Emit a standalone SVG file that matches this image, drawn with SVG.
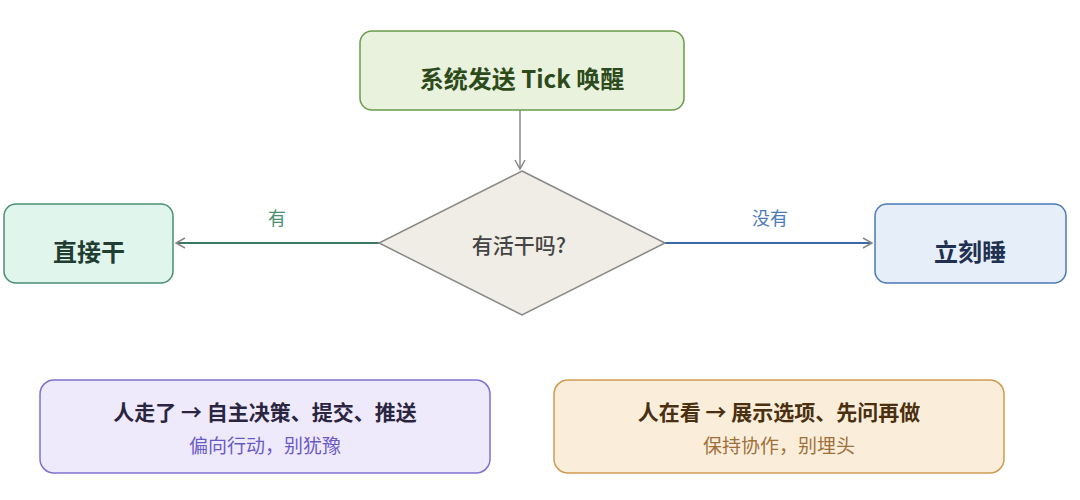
<svg xmlns="http://www.w3.org/2000/svg" width="1080" height="500" viewBox="0 0 1080 500">
<defs>
<style>
text{font-family:"Noto Sans CJK SC","Noto Sans",sans-serif;text-anchor:middle;}
.big{font-size:24px;font-weight:700;}
.t{font-size:21px;font-weight:700;}
.s{font-size:19px;}
.lbl{font-size:18px;}
</style>
<marker id="arr" viewBox="0 0 12 12" refX="10" refY="6" markerWidth="12" markerHeight="12" markerUnits="userSpaceOnUse" orient="auto">
<path d="M1,1 L10,6 L1,11" fill="none" stroke="#888" stroke-width="1.5"/>
</marker>
</defs>
<rect width="1080" height="500" fill="#fff"/>
<g id="connectors">
<line x1="520" y1="110" x2="520" y2="169" stroke="#888" stroke-width="1.5" marker-end="url(#arr)"/>
<line x1="379" y1="243" x2="176" y2="243" stroke="#3a7a5e" stroke-width="2" marker-end="url(#arr)"/>
<text class="lbl" x="277" y="225" fill="#4a8f70">有</text>
<line x1="665" y1="243" x2="872" y2="243" stroke="#3a6aa8" stroke-width="2" marker-end="url(#arr)"/>
<text class="lbl" x="770" y="225" fill="#4a7ab8">没有</text>
</g>
<g id="tick">
<rect x="360" y="31" width="324" height="79" rx="12" fill="#e8f2dd" stroke="#6a9a4a" stroke-width="1.5"/>
<text class="big" x="522" y="88" fill="#2d4a1a">系统发送 Tick 唤醒</text>
</g>
<g id="decision">
<polygon points="522,171 665,243 522,315 379,243" fill="#f0ede6" stroke="#888" stroke-width="1.5"/>
<text x="519" y="253" font-size="21" font-weight="500" fill="#444">有活干吗?</text>
</g>
<g id="work">
<rect x="4" y="204" width="169" height="79" rx="12" fill="#e0f5ec" stroke="#4a8f70" stroke-width="1.5"/>
<text class="big" x="89" y="261" fill="#1f3d30">直接干</text>
</g>
<g id="sleep">
<rect x="875" y="204" width="191" height="79" rx="12" fill="#e5eef9" stroke="#4a7ab8" stroke-width="1.5"/>
<text class="big" x="970" y="261" fill="#1f3050">立刻睡</text>
</g>
<g id="away">
<rect x="40" y="380" width="450" height="93" rx="14" fill="#eeeafc" stroke="#8070d0" stroke-width="1.5"/>
<text class="t" x="265" y="420" fill="#2a2540">人走了 → 自主决策、提交、推送</text>
<text class="s" x="265" y="453" fill="#6a5ac8">偏向行动，别犹豫</text>
</g>
<g id="watching">
<rect x="554" y="380" width="450" height="93" rx="14" fill="#faeedb" stroke="#d09a50" stroke-width="1.5"/>
<text class="t" x="779" y="420" fill="#4a3010">人在看 → 展示选项、先问再做</text>
<text class="s" x="779" y="453" fill="#a0703a">保持协作，别埋头</text>
</g>
</svg>
